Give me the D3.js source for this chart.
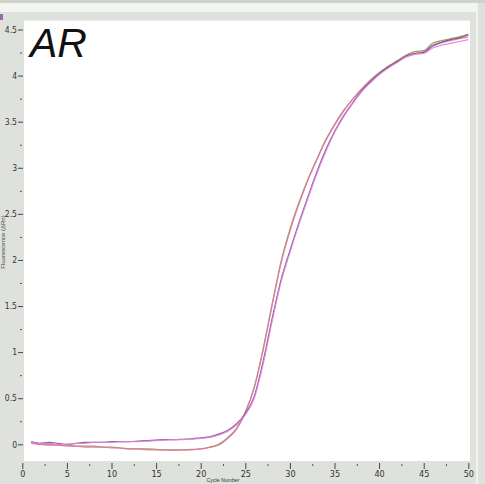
<!DOCTYPE html>
<html><head><meta charset="utf-8">
<script src="https://cdn.jsdelivr.net/npm/d3@7/dist/d3.min.js"></script>
<style>html,body{margin:0;padding:0;background:#dfe2dc;}svg{display:block;}</style>
</head><body>
<script>
const cycles = d3.range(1, 51);
const greenA = [0.02,0.00,0.00,-0.01,-0.01,-0.02,-0.02,-0.02,-0.03,-0.03,-0.04,-0.05,-0.05,-0.05,-0.055,-0.06,-0.06,-0.06,-0.055,-0.05,-0.03,0.00,0.07,0.17,0.35,0.62,1.04,1.52,1.98,2.33,2.62,2.87,3.09,3.30,3.47,3.62,3.74,3.85,3.95,4.03,4.10,4.16,4.22,4.26,4.27,4.35,4.38,4.40,4.42,4.45];
const pinkA  = [0.01,0.00,-0.01,-0.01,-0.02,-0.02,-0.03,-0.03,-0.03,-0.04,-0.04,-0.05,-0.05,-0.06,-0.06,-0.06,-0.065,-0.06,-0.06,-0.05,-0.035,-0.01,0.06,0.16,0.34,0.61,1.02,1.50,1.96,2.31,2.60,2.86,3.08,3.29,3.46,3.61,3.74,3.85,3.94,4.02,4.09,4.15,4.21,4.24,4.26,4.33,4.36,4.38,4.40,4.42];
const purpleB= [0.03,0.01,0.02,0.01,0.00,0.01,0.02,0.02,0.02,0.03,0.03,0.03,0.035,0.04,0.045,0.05,0.05,0.055,0.06,0.07,0.08,0.11,0.15,0.22,0.33,0.52,0.90,1.36,1.78,2.10,2.40,2.68,2.95,3.19,3.39,3.56,3.70,3.83,3.93,4.02,4.09,4.15,4.21,4.24,4.25,4.32,4.36,4.39,4.41,4.44];
const magentaB=[0.02,0.01,0.01,0.00,0.00,0.01,0.01,0.02,0.02,0.02,0.03,0.03,0.03,0.035,0.04,0.045,0.05,0.05,0.055,0.065,0.075,0.10,0.14,0.21,0.32,0.50,0.87,1.33,1.76,2.08,2.38,2.66,2.93,3.17,3.38,3.55,3.69,3.82,3.92,4.01,4.08,4.14,4.20,4.23,4.24,4.30,4.33,4.35,4.37,4.39];
const seriesNames = ["greenA","pinkA","purpleB","magentaB"];
const seriesValues = [greenA, pinkA, purpleB, magentaB];
const seriesColors = ["#8a9a44","#e873a8","#6e4d8e","#e27fdc"];
const yTicks = [0,0.5,1,1.5,2,2.5,3,3.5,4,4.5];
const xTicks = [0,5,10,15,20,25,30,35,40,45,50];

const W = 485, H = 484;
const svg = d3.select("body").append("svg").attr("width", W).attr("height", H);

// frame decorations
svg.append("rect").attr("x",0).attr("y",0).attr("width",W).attr("height",H).attr("fill","#dfe2dc");
svg.append("rect").attr("x",0).attr("y",0).attr("width",W).attr("height",3).attr("fill","#cfd3cc");
svg.append("rect").attr("x",0).attr("y",3).attr("width",478).attr("height",9).attr("fill","#f3f5f1");
svg.append("rect").attr("x",476).attr("y",12).attr("width",2).attr("height",H).attr("fill","#f0f2ee");
svg.append("rect").attr("x",0).attr("y",14).attr("width",3).attr("height",6).attr("fill","#9a6ab0");

const x = d3.scaleLinear().domain([0,50]).range([22.3,468.3]);
const y = d3.scaleLinear().domain([0,4.5]).range([444.3,29.5]);

const plot = {x0:24, y0:20.7, x1:470, y1:461};
svg.append("rect").attr("x",plot.x0).attr("y",plot.y0)
  .attr("width",plot.x1-plot.x0).attr("height",plot.y1-plot.y0).attr("fill","#ffffff");

svg.append("defs").append("clipPath").attr("id","clip")
  .append("rect").attr("x",plot.x0).attr("y",plot.y0)
  .attr("width",plot.x1-plot.x0).attr("height",plot.y1-plot.y0);

// y axis
const yAxis = d3.axisLeft(y).tickValues(yTicks).tickSize(5).tickPadding(1)
  .tickFormat(d => d3.format("")(d));
const gy = svg.append("g").attr("transform","translate(23,0)").call(yAxis);
gy.select(".domain").remove();
gy.selectAll("text").attr("font-family","'Liberation Sans Narrow','DejaVu Sans Condensed',sans-serif").attr("font-size",8.5).attr("fill","#333");
gy.selectAll("line").attr("stroke","#444");
const yMinor = d3.axisLeft(y).tickValues(yTicks.slice(0,-1).map(v=>v+0.25)).tickSize(2).tickFormat("");
const gym = svg.append("g").attr("transform","translate(22,0)").call(yMinor);
gym.select(".domain").remove();
gym.selectAll("line").attr("stroke","#555");

// x axis
const xAxis = d3.axisBottom(x).tickValues(xTicks).tickSize(6).tickPadding(2);
const gx = svg.append("g").attr("transform","translate(0,463)").call(xAxis);
gx.select(".domain").remove();
gx.selectAll("text").attr("font-family","'Liberation Sans Narrow','DejaVu Sans Condensed',sans-serif").attr("font-size",9).attr("fill","#333");
gx.selectAll("line").attr("stroke","#444");
const xMinor = d3.axisBottom(x).tickValues(xTicks.slice(0,-1).map(v=>v+2.5)).tickSize(2).tickFormat("");
const gxm = svg.append("g").attr("transform","translate(0,464)").call(xMinor);
gxm.select(".domain").remove();
gxm.selectAll("line").attr("stroke","#555");

// axis titles
svg.append("text").attr("x",223).attr("y",482).attr("text-anchor","middle")
  .attr("font-family","'Liberation Sans',sans-serif").attr("font-size",5.2).attr("fill","#333").text("Cycle Number");
svg.append("text").attr("transform","translate(5,242) rotate(-90)").attr("text-anchor","middle")
  .attr("font-family","'Liberation Sans',sans-serif").attr("font-size",6).attr("fill","#444").text("Fluorescence (ΔRn)");

// lines
const line = d3.line().x((d,i)=>x(cycles[i])).y(d=>y(d)).curve(d3.curveMonotoneX);
const gl = svg.append("g").attr("clip-path","url(#clip)");
seriesValues.forEach((vals,k)=>{
  gl.append("path").datum(vals).attr("d",line).attr("fill","none")
    .attr("stroke",seriesColors[k]).attr("stroke-width",1.2).attr("stroke-opacity",0.9)
    .attr("class",seriesNames[k]);
});

// label
svg.append("text").attr("x",30).attr("y",57)
  .attr("font-family","'Liberation Sans',Arial,sans-serif").attr("font-style","italic")
  .attr("font-size",41).attr("fill","#111").text("AR");
</script>
</body></html>
